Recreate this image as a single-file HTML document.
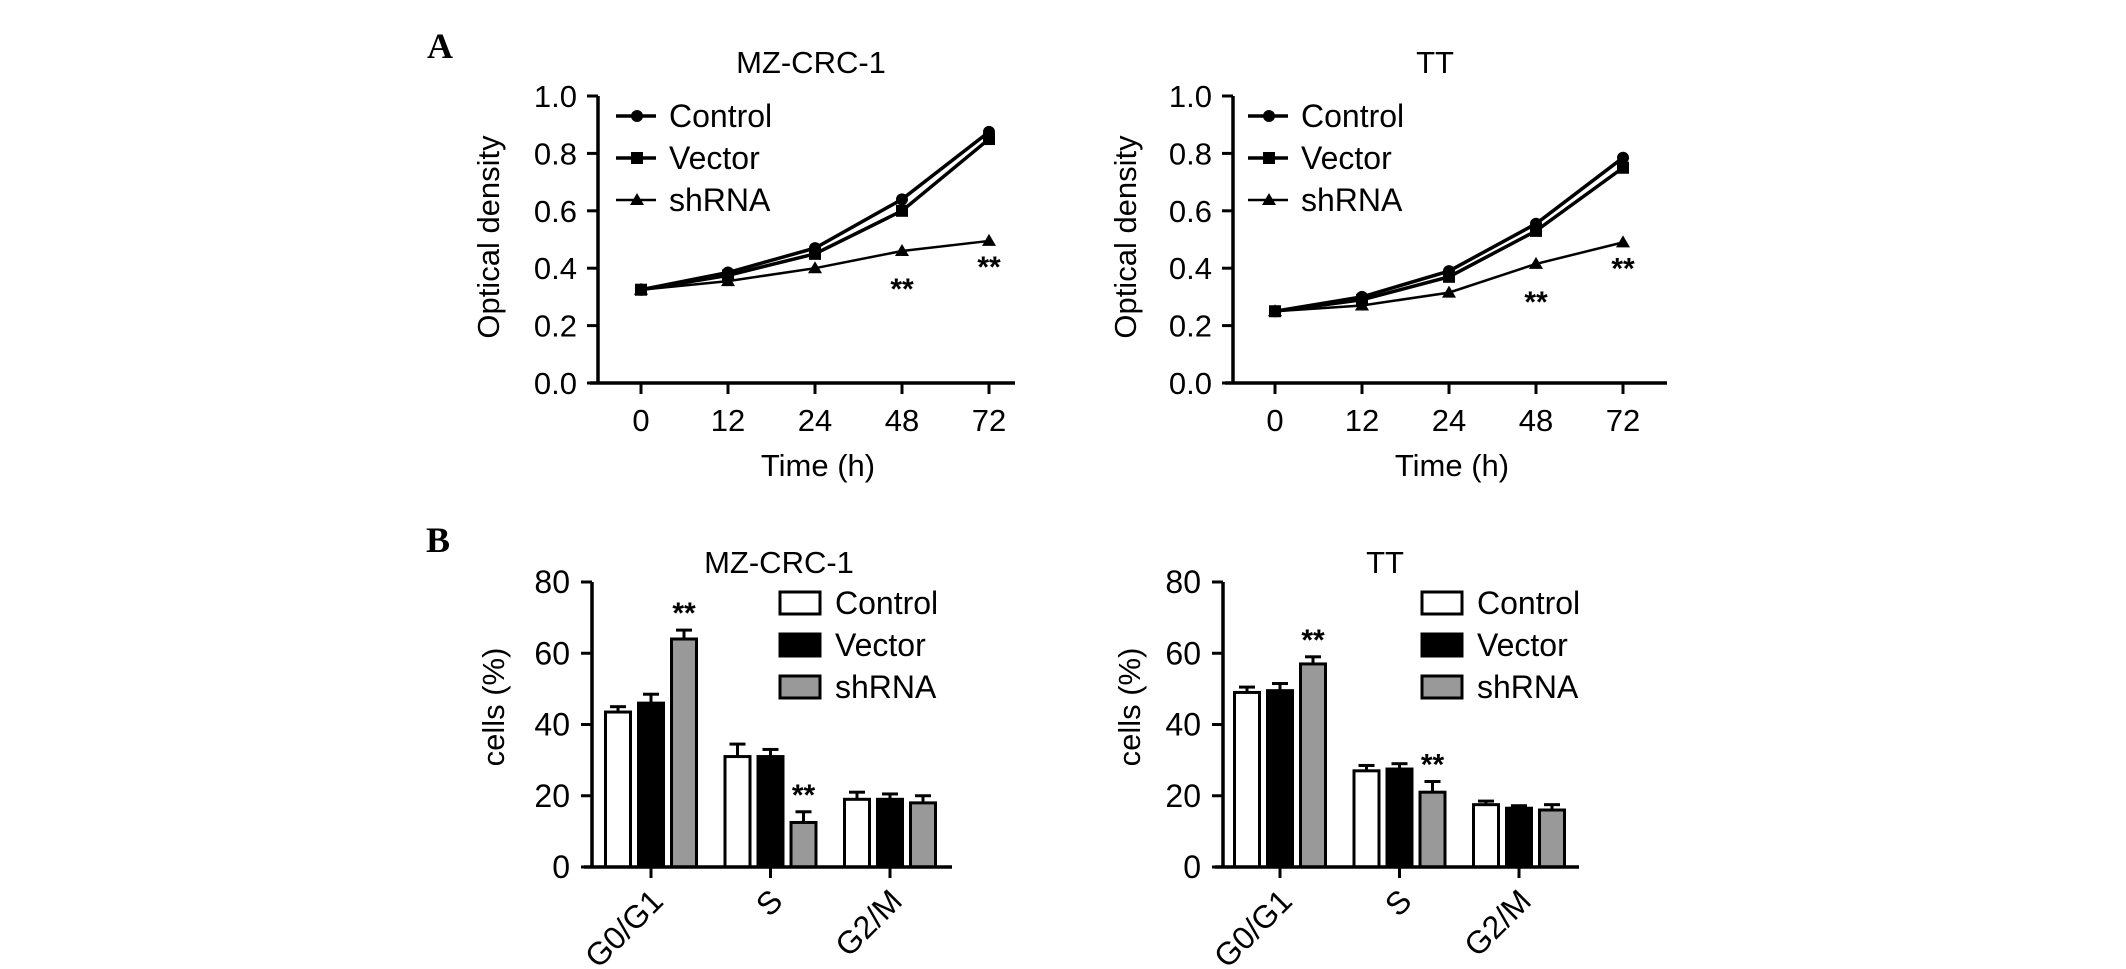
<!DOCTYPE html>
<html><head><meta charset="utf-8"><style>
body{margin:0;background:#fff;}
svg{display:block;font-family:"Liberation Sans",Arial,sans-serif;}
</style></head><body>
<svg id="fig" width="2126" height="969" viewBox="0 0 2126 969" xmlns="http://www.w3.org/2000/svg">
<text x="440" y="58" font-family="Liberation Serif,serif" font-weight="bold" font-size="36" text-anchor="middle">A</text>
<text x="438" y="552" font-family="Liberation Serif,serif" font-weight="bold" font-size="36" text-anchor="middle">B</text>
</svg>
<script>
const timeLabels = ["0","12","24","48","72"];
const odTicks = ["0.0","0.2","0.4","0.6","0.8","1.0"];
const mzControl = [0.325,0.385,0.47,0.64,0.875];
const mzVector = [0.325,0.375,0.45,0.60,0.85];
const mzShrna = [0.325,0.355,0.40,0.46,0.495];
const ttControl = [0.25,0.30,0.39,0.555,0.785];
const ttVector = [0.25,0.29,0.37,0.53,0.75];
const ttShrna = [0.25,0.27,0.315,0.415,0.49];
const phases = ["G0/G1","S","G2/M"];
const pctTicks = ["0","20","40","60","80"];
const mzBarControl = [43.5,31,19];
const mzBarVector = [46,31,19];
const mzBarShrna = [64,12.5,18];
const mzErrControl = [1.5,3.5,2];
const mzErrVector = [2.5,2,1.5];
const mzErrShrna = [2.5,3,2];
const ttBarControl = [49,27,17.5];
const ttBarVector = [49.5,27.5,16.5];
const ttBarShrna = [57,21,16];
const ttErrControl = [1.5,1.5,1];
const ttErrVector = [2,1.5,0.7];
const ttErrShrna = [2,3,1.5];
const seriesNames = ["Control","Vector","shRNA"];

const NS="http://www.w3.org/2000/svg";
const svg=document.getElementById('fig');
function mk(tag,attrs,parent,txt){const e=document.createElementNS(NS,tag);for(const k in attrs)e.setAttribute(k,attrs[k]);if(txt!==undefined)e.textContent=txt;(parent||svg).appendChild(e);return e;}

function lineChart(o){
  const g=mk('g',{});
  
  
  const y0=383,y1=96;
  const yS=v=>y0-(v/1.0)*(y0-y1);
  const xS=i=>o.x0+i*87;
  const ya=mk('line',{x1:o.ax,y1:y1,x2:o.ax,y2:y0+1,stroke:'#000','stroke-width':3.5},g);
  
  
  const xa=mk('line',{x1:o.ax-8,y1:y0,x2:o.xe,y2:y0,stroke:'#000','stroke-width':3.5},g);
  
  
  odTicks.forEach((t)=>{const v=parseFloat(t);const y=yS(v);
    mk('line',{x1:o.ax-11,y1:y,x2:o.ax,y2:y,stroke:'#000','stroke-width':3},g);
    const tl=mk('text',{x:o.ax-21,y:y+11,'font-size':31,'text-anchor':'end'},g,t);
    
    });
  timeLabels.forEach((t,i)=>{const x=xS(i);
    mk('line',{x1:x,y1:y0,x2:x,y2:y0+11,stroke:'#000','stroke-width':3},g);
    const tl=mk('text',{x:x,y:431,'font-size':31,'text-anchor':'middle'},g,t);
    
    });
  const xt=mk('text',{x:o.xt,y:476,'font-size':31,'text-anchor':'middle'},g,'Time (h)');
  
  
  const yt=mk('text',{x:0,y:0,'font-size':31,'text-anchor':'middle',transform:`translate(${o.yt+11},237) rotate(-90)`},g,'Optical density');
  
  
  const ti=mk('text',{x:o.tx,y:73,'font-size':31,'text-anchor':'middle'},g,o.title);
  
  
  const series=[o.c,o.v,o.s];
  const widths=[3.5,3.5,2.5];
  function marker(k,x,y,par){
    if(k===0) return mk('circle',{cx:x,cy:y,r:6,fill:'#000'},par);
    if(k===1) return mk('rect',{x:x-6,y:y-6,width:12,height:12,fill:'#000'},par);
    return mk('polygon',{points:`${x},${y-7} ${x-7},${y+5} ${x+7},${y+5}`,fill:'#000'},par);
  }
  [2,1,0].forEach(k=>{const d=series[k];
    const pl=mk('polyline',{points:d.map((v,i)=>xS(i)+','+yS(v)).join(' '),fill:'none',stroke:'#000','stroke-width':widths[k]},g);
    
    
    d.forEach((v,i)=>{const m=marker(k,xS(i),yS(v),g);
      
      });
  });
  [3,4].forEach(i=>{const s=mk('text',{x:xS(i),y:yS(o.s[i])+(i===3?48:36),'font-size':30,'font-weight':'bold','text-anchor':'middle'},g,'**');
    
    });
  const ly=[116,158,200];
  seriesNames.forEach((n,k)=>{
    const lg=mk('g',{},g);
    
    
    mk('line',{x1:o.lx,y1:ly[k],x2:o.lx+40,y2:ly[k],stroke:'#000','stroke-width':widths[k]},lg);
    marker(k,o.lx+21,ly[k],lg);
    mk('text',{x:o.lx+53,y:ly[k]+11,'font-size':32},lg,n);
  });
}

function barChart(o){
  const g=mk('g',{});
  
  
  const y0=867,y1=582;
  const yS=v=>y0-(v/80)*(y0-y1);
  const gx=i=>o.g0+i*119.5;
  const ya=mk('line',{x1:o.ax,y1:y1,x2:o.ax,y2:y0+1,stroke:'#000','stroke-width':3.5},g);
  
  
  pctTicks.forEach(t=>{const y=yS(parseFloat(t));
    mk('line',{x1:o.ax-11,y1:y,x2:o.ax,y2:y,stroke:'#000','stroke-width':3},g);
    const tl=mk('text',{x:o.ax-22,y:y+11,'font-size':32,'text-anchor':'end'},g,t);
    
    });
  const yt=mk('text',{x:0,y:0,'font-size':31,'text-anchor':'middle',transform:`translate(${o.yt+11},707) rotate(-90)`},g,'cells (%)');
  
  
  const ti=mk('text',{x:o.tx,y:573,'font-size':31,'text-anchor':'middle'},g,o.title);
  
  
  const vals=[o.c,o.v,o.s], errs=[o.ec,o.ev,o.es], fills=['#fff','#000','#999'];
  phases.forEach((p,i)=>{
    vals.forEach((d,k)=>{
      const cx=gx(i)+(k-1)*33;
      const top=yS(d[i]), et=yS(d[i]+errs[k][i]);
      mk('line',{x1:cx,y1:top,x2:cx,y2:et,stroke:'#000','stroke-width':3},g);
      mk('line',{x1:cx-8,y1:et,x2:cx+8,y2:et,stroke:'#000','stroke-width':3},g);
      const r=mk('rect',{x:cx-12.5,y:top,width:25,height:y0-top,fill:fills[k],stroke:'#000','stroke-width':3},g);
      
      
      if(k===2 && i<2){const s=mk('text',{x:cx,y:et-7,'font-size':30,'font-weight':'bold','text-anchor':'middle'},g,'**');
        
        }
    });
    mk('line',{x1:gx(i),y1:y0,x2:gx(i),y2:y0+11,stroke:'#000','stroke-width':3},g);
    const tl=mk('text',{x:0,y:0,'font-size':32,'text-anchor':'end',transform:`translate(${gx(i)+14},${y0+36}) rotate(-45)`},g,p);
    
    
  });
  const xa=mk('line',{x1:o.ax-8,y1:y0,x2:o.xe,y2:y0,stroke:'#000','stroke-width':3.5},g);
  
  
  const ly=[603,645,687];
  seriesNames.forEach((n,k)=>{
    const lg=mk('g',{},g);
    
    
    mk('rect',{x:o.lx,y:ly[k]-11,width:40,height:22,fill:fills[k],stroke:'#000','stroke-width':3},lg);
    mk('text',{x:o.lx+55,y:ly[k]+11,'font-size':32},lg,n);
  });
}

lineChart({name:'chart-od-mzcrc1',title:'MZ-CRC-1',ax:598,x0:641,xe:1015,xt:818,yt:488,tx:811,lx:616,c:mzControl,v:mzVector,s:mzShrna});
lineChart({name:'chart-od-tt',title:'TT',ax:1233,x0:1275,xe:1667,xt:1452,yt:1125,tx:1435,lx:1248,c:ttControl,v:ttVector,s:ttShrna});
barChart({name:'chart-cells-mzcrc1',title:'MZ-CRC-1',ax:592,g0:651,xe:952,yt:493,tx:779,lx:780,c:mzBarControl,v:mzBarVector,s:mzBarShrna,ec:mzErrControl,ev:mzErrVector,es:mzErrShrna});
barChart({name:'chart-cells-tt',title:'TT',ax:1223,g0:1280,xe:1579,yt:1129,tx:1385,lx:1422,c:ttBarControl,v:ttBarVector,s:ttBarShrna,ec:ttErrControl,ev:ttErrVector,es:ttErrShrna});
</script>
</body></html>
